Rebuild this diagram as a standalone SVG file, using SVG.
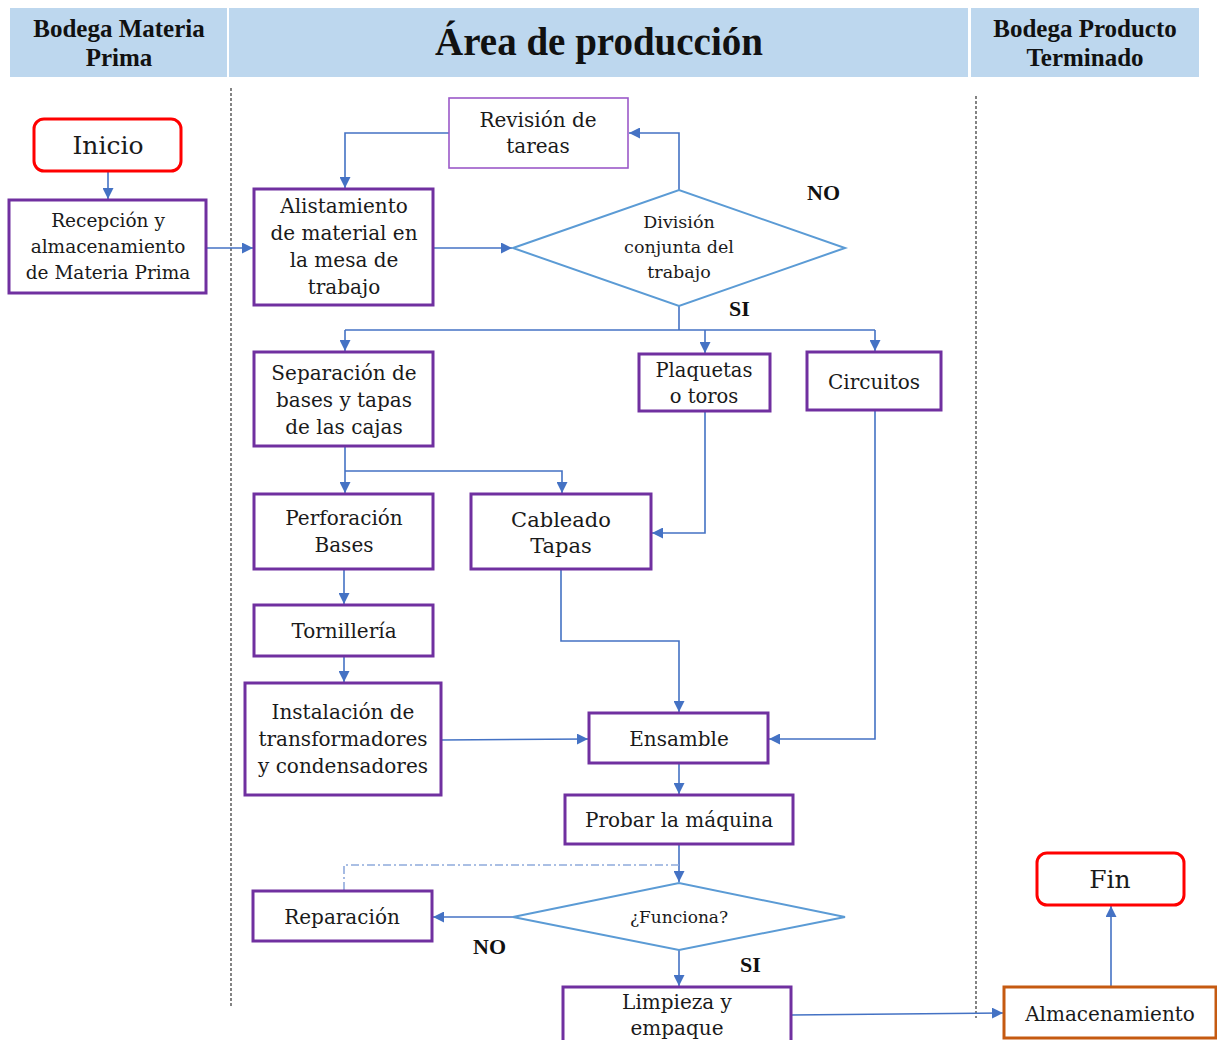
<svg xmlns="http://www.w3.org/2000/svg" width="1217" height="1040" viewBox="0 0 1217 1040">
  <style>
    .band { fill: #BDD7EE; }
    .hdr { font-family: "Liberation Serif", serif; font-weight: bold; fill: #111; text-anchor: middle; }
    .lane { stroke: #333; stroke-width: 1.2; stroke-dasharray: 3 2; fill: none; }
    .proc { fill: #fff; stroke: #7030A0; stroke-width: 3; }
    .proc-thin { fill: #fff; stroke: #9B59C9; stroke-width: 1.6; }
    .term { fill: #fff; stroke: #FF0000; stroke-width: 3; }
    .store { fill: #fff; stroke: #C55A11; stroke-width: 3; }
    .dec { fill: #fff; stroke: #5B9BD5; stroke-width: 2; }
    .t { font-family: "DejaVu Serif", "Liberation Serif", serif; fill: #1a1a1a; text-anchor: middle; }
    .lbl { font-family: "Liberation Serif", serif; font-weight: bold; font-size: 22px; fill: #111; }
    .conn { fill: none; stroke: #4472C4; stroke-width: 1.6; }
    .dashdot { fill: none; stroke: #8FAADC; stroke-width: 1.6; stroke-dasharray: 8 3 2 3; }
  </style>
  <defs>
    <marker id="arrow" viewBox="0 0 10 10" refX="10" refY="5" markerWidth="11" markerHeight="11" markerUnits="userSpaceOnUse" orient="auto">
      <path d="M0,0 L10,5 L0,10 z" fill="#4472C4"/>
    </marker>
  </defs>

  <rect width="1217" height="1040" fill="#fff"/>

  <!-- swimlane header -->
  <g id="header">
    <rect class="band" x="10" y="8" width="217" height="69"/>
    <rect class="band" x="229" y="8" width="739" height="69"/>
    <rect class="band" x="971" y="8" width="228" height="69"/>
    <text class="hdr" x="119" y="37" font-size="25">Bodega Materia</text>
    <text class="hdr" x="119" y="66" font-size="25">Prima</text>
    <text class="hdr" x="599" y="55" font-size="39">Área de producción</text>
    <text class="hdr" x="1085" y="37" font-size="25">Bodega Producto</text>
    <text class="hdr" x="1085" y="66" font-size="25">Terminado</text>
  </g>

  <!-- lane separators -->
  <g id="lanes">
    <line class="lane" x1="231" y1="88" x2="231" y2="1008"/>
    <line class="lane" x1="976" y1="96" x2="976" y2="1018"/>
  </g>

  <!-- connectors -->
  <g id="connectors">
    <path class="conn" d="M108,171 V199" marker-end="url(#arrow)"/>
    <path class="conn" d="M206,248 H253" marker-end="url(#arrow)"/>
    <path class="conn" d="M449,133 H345 V188" marker-end="url(#arrow)"/>
    <path class="conn" d="M433,248 H512" marker-end="url(#arrow)"/>
    <path class="conn" d="M679,190 V133 H629" marker-end="url(#arrow)"/>
    <path class="conn" d="M679,306 V330"/>
    <path class="conn" d="M345,330 H875"/>
    <path class="conn" d="M345,330 V351" marker-end="url(#arrow)"/>
    <path class="conn" d="M705,330 V353" marker-end="url(#arrow)"/>
    <path class="conn" d="M875,330 V351" marker-end="url(#arrow)"/>
    <path class="conn" d="M345,446 V493" marker-end="url(#arrow)"/>
    <path class="conn" d="M345,471 H562 V493" marker-end="url(#arrow)"/>
    <path class="conn" d="M705,411 V533 H652" marker-end="url(#arrow)"/>
    <path class="conn" d="M344,569 V604" marker-end="url(#arrow)"/>
    <path class="conn" d="M344,656 V682" marker-end="url(#arrow)"/>
    <path class="conn" d="M441,740 L588,739" marker-end="url(#arrow)"/>
    <path class="conn" d="M561,569 V641 H679 V712" marker-end="url(#arrow)"/>
    <path class="conn" d="M875,410 V739 H769" marker-end="url(#arrow)"/>
    <path class="conn" d="M679,763 V794" marker-end="url(#arrow)"/>
    <path class="conn" d="M679,844 V882" marker-end="url(#arrow)"/>
    <path class="dashdot" d="M344,890 V865 H679"/>
    <path class="conn" d="M513,917 H433" marker-end="url(#arrow)"/>
    <path class="conn" d="M679,950 V986" marker-end="url(#arrow)"/>
    <path class="conn" d="M791,1015 L1003,1013" marker-end="url(#arrow)"/>
    <path class="conn" d="M1111,987 V906" marker-end="url(#arrow)"/>
    <text class="lbl" x="807" y="200">NO</text>
    <text class="lbl" x="729" y="316">SI</text>
    <text class="lbl" x="473" y="954">NO</text>
    <text class="lbl" x="740" y="972">SI</text>
  </g>

  <g id="inicio">
    <rect class="term" x="34" y="119" width="147" height="52" rx="10"/>
    <text class="t" x="108" y="154" font-size="25">Inicio</text>
  </g>

  <g id="recepcion">
    <rect class="proc" x="9" y="200" width="197" height="93"/>
    <text class="t" font-size="18.5"><tspan x="108" y="227">Recepción y</tspan><tspan x="108" y="253">almacenamiento</tspan><tspan x="108" y="279">de Materia Prima</tspan></text>
  </g>

  <g id="alistamiento">
    <rect class="proc" x="254" y="189" width="179" height="116"/>
    <text class="t" font-size="20"><tspan x="344" y="213">Alistamiento</tspan><tspan x="344" y="240">de material en</tspan><tspan x="344" y="267">la mesa de</tspan><tspan x="344" y="294">trabajo</tspan></text>
  </g>

  <g id="revision">
    <rect class="proc-thin" x="449" y="98" width="179" height="70"/>
    <text class="t" font-size="20"><tspan x="538" y="127">Revisión de</tspan><tspan x="538" y="153">tareas</tspan></text>
  </g>

  <g id="division">
    <polygon class="dec" points="513,248 679,190 845,248 679,306"/>
    <text class="t" font-size="17.5"><tspan x="679" y="228">División</tspan><tspan x="679" y="253">conjunta del</tspan><tspan x="679" y="278">trabajo</tspan></text>
  </g>

  <g id="separacion">
    <rect class="proc" x="254" y="352" width="179" height="94"/>
    <text class="t" font-size="20"><tspan x="344" y="380">Separación de</tspan><tspan x="344" y="407">bases y tapas</tspan><tspan x="344" y="434">de las cajas</tspan></text>
  </g>

  <g id="plaquetas">
    <rect class="proc" x="639" y="354" width="131" height="57"/>
    <text class="t" font-size="19.5"><tspan x="704" y="377">Plaquetas</tspan><tspan x="704" y="403">o toros</tspan></text>
  </g>

  <g id="circuitos">
    <rect class="proc" x="807" y="352" width="134" height="58"/>
    <text class="t" x="874" y="389" font-size="20">Circuitos</text>
  </g>

  <g id="perforacion">
    <rect class="proc" x="254" y="494" width="179" height="75"/>
    <text class="t" font-size="20"><tspan x="344" y="525">Perforación</tspan><tspan x="344" y="552">Bases</tspan></text>
  </g>

  <g id="cableado">
    <rect class="proc" x="471" y="494" width="180" height="75"/>
    <text class="t" font-size="21"><tspan x="561" y="527">Cableado</tspan><tspan x="561" y="553">Tapas</tspan></text>
  </g>

  <g id="tornilleria">
    <rect class="proc" x="254" y="605" width="179" height="51"/>
    <text class="t" x="344" y="638" font-size="20">Tornillería</text>
  </g>

  <g id="instalacion">
    <rect class="proc" x="245" y="683" width="196" height="112"/>
    <text class="t" font-size="20"><tspan x="343" y="719">Instalación de</tspan><tspan x="343" y="746">transformadores</tspan><tspan x="343" y="773">y condensadores</tspan></text>
  </g>

  <g id="ensamble">
    <rect class="proc" x="589" y="713" width="179" height="50"/>
    <text class="t" x="679" y="746" font-size="20">Ensamble</text>
  </g>

  <g id="probar">
    <rect class="proc" x="565" y="795" width="228" height="49"/>
    <text class="t" x="679" y="827" font-size="20">Probar la máquina</text>
  </g>

  <g id="funciona">
    <polygon class="dec" points="513,917 679,883 845,917 679,950"/>
    <text class="t" x="679" y="923" font-size="17">¿Funciona?</text>
  </g>

  <g id="reparacion">
    <rect class="proc" x="253" y="891" width="179" height="50"/>
    <text class="t" x="342" y="924" font-size="20">Reparación</text>
  </g>

  <g id="limpieza">
    <rect class="proc" x="563" y="987" width="228" height="58"/>
    <text class="t" font-size="20"><tspan x="677" y="1009">Limpieza y</tspan><tspan x="677" y="1035">empaque</tspan></text>
  </g>

  <g id="almacenamiento">
    <rect class="store" x="1004" y="987" width="212" height="51"/>
    <text class="t" x="1110" y="1021" font-size="20">Almacenamiento</text>
  </g>

  <g id="fin">
    <rect class="term" x="1037" y="853" width="147" height="52" rx="10"/>
    <text class="t" x="1110" y="888" font-size="25">Fin</text>
  </g>
</svg>
